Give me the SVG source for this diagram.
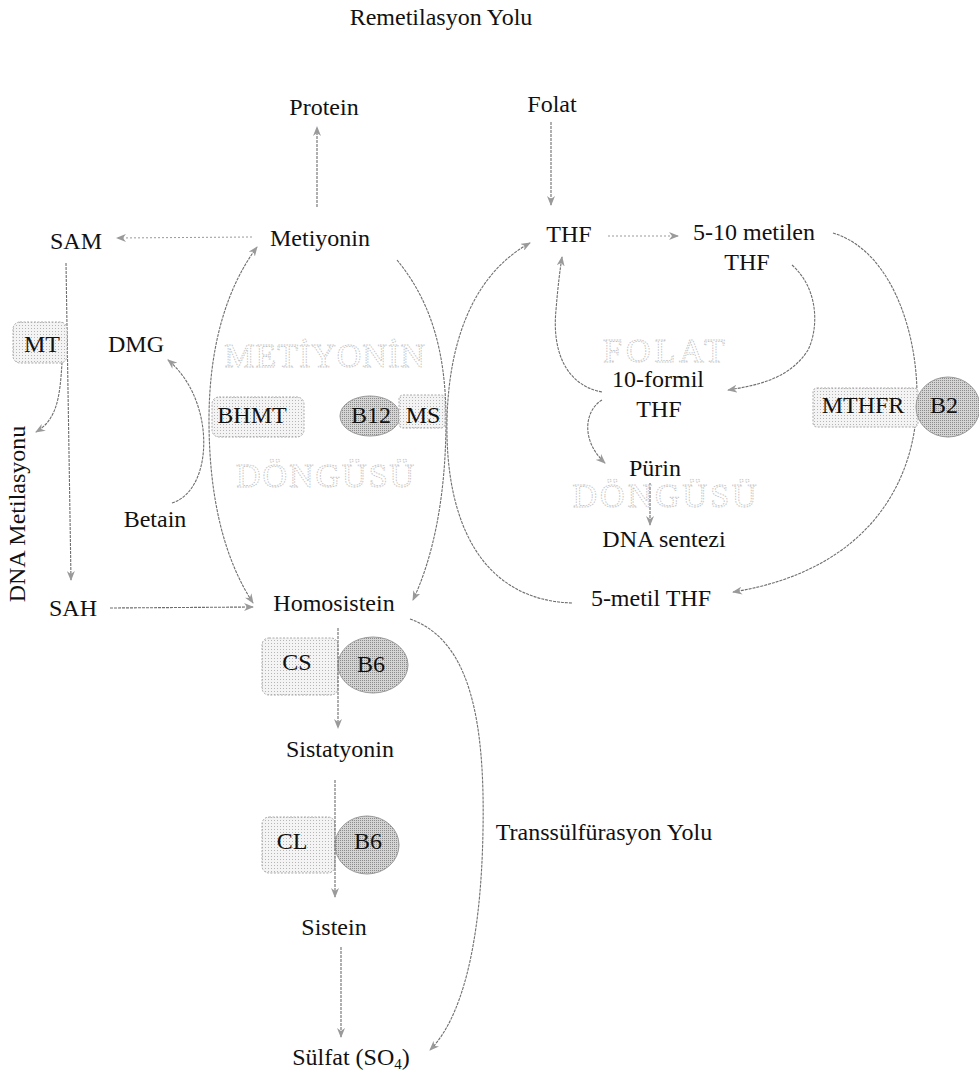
<svg xmlns="http://www.w3.org/2000/svg" width="979" height="1077" viewBox="0 0 979 1077">
<style>
  text { font-family: "Liberation Serif", "Times New Roman", serif; fill: #111; }
  .t { font-size: 24px; text-anchor: middle; }
  .wm { font-size: 34px; text-anchor: middle; fill: #fff; stroke: #c4c4c4; stroke-width: 0.9; stroke-dasharray: 1.5 1.2; }
  .c { fill: none; stroke: #6f6f6f; stroke-width: 1.1; stroke-dasharray: 3 1; }
  .cl { fill: none; stroke: #9a9a9a; stroke-width: 1; stroke-dasharray: 2 2; }
  .enz { fill: url(#dots); stroke: #a8a8a8; stroke-width: 1; stroke-dasharray: 2 1.5; }
  .cof { fill: url(#dense); stroke: #9a9a9a; stroke-width: 1; }
</style>
<defs>
  <pattern id="dots" width="3" height="3" patternUnits="userSpaceOnUse">
    <rect width="3" height="3" fill="#f4f4f4"/>
    <rect x="1" y="1" width="1" height="1" fill="#b5b5b5"/>
  </pattern>
  <pattern id="dense" width="2" height="2" patternUnits="userSpaceOnUse">
    <rect width="2" height="2" fill="#d4d4d4"/>
    <rect width="1" height="1" fill="#8c8c8c"/>
  </pattern>
  <marker id="ah" viewBox="0 0 10 8" refX="9" refY="4" markerWidth="10" markerHeight="8" markerUnits="userSpaceOnUse" orient="auto-start-reverse">
    <path d="M0,0 L10,4 L0,8 L3,4 z" fill="#9a9a9a"/>
  </marker>
</defs>

<text class="t" x="441" y="25">Remetilasyon Yolu</text>

<g id="connectors">
  <path class="c" d="M317,207 L317,127" marker-end="url(#ah)"/>
  <path class="c" d="M551,122 L551,205" marker-end="url(#ah)"/>
  <path class="cl" d="M252,237 L117,238" marker-end="url(#ah)"/>
  <path class="cl" d="M608,236 L678,236" marker-end="url(#ah)"/>
  <path class="c" d="M66,263 L71,580" marker-end="url(#ah)"/>
  <path class="c" d="M62,362 C60,400 56,420 36,432" marker-end="url(#ah)"/>
  <path class="c" d="M172,503 C214,490 216,400 168,360" marker-end="url(#ah)"/>
  <path class="c" d="M257,247 C225,290 209,350 209,420 C209,500 225,560 253,603" marker-start="url(#ah)" marker-end="url(#ah)"/>
  <path class="c" d="M397,260 C430,300 446,350 446,420 C446,500 432,560 413,600" marker-end="url(#ah)"/>
  <path class="c" d="M572,603 C480,600 445,520 447,420 C449,330 480,270 530,243" marker-end="url(#ah)"/>
  <path class="c" d="M602,392 C565,385 552,350 556,310 C558,285 560,270 562,257" marker-end="url(#ah)"/>
  <path class="c" d="M792,265 C820,290 818,330 808,350 C790,378 760,385 728,390" marker-end="url(#ah)"/>
  <path class="c" d="M602,400 C585,410 580,440 605,463" marker-end="url(#ah)"/>
  <path class="c" d="M650,483 L650,525" marker-end="url(#ah)"/>
  <path class="c" d="M833,233 C890,250 918,330 917,400 C916,480 870,570 733,592" marker-end="url(#ah)"/>
  <path class="c" d="M110,608 L253,607" marker-end="url(#ah)"/>
  <path class="c" d="M410,619 C470,640 485,720 483,830 C481,950 460,1020 430,1050" marker-end="url(#ah)"/>
</g>

<g id="watermarks">
  <text class="wm" x="325" y="367" letter-spacing="1">METİYONİN</text>
  <text class="wm" x="326" y="487" font-size="30" letter-spacing="2">DÖNGÜSÜ</text>
  <text class="wm" x="666" y="362" font-size="34" letter-spacing="4">FOLAT</text>
  <text class="wm" x="666" y="507" font-size="34" letter-spacing="3">DÖNGÜSÜ</text>
</g>

<g id="n-protein"><text class="t" x="324" y="115">Protein</text></g>
<g id="n-folat"><text class="t" x="552" y="112">Folat</text></g>
<g id="n-sam"><text class="t" x="76" y="249">SAM</text></g>
<g id="n-metiyonin"><text class="t" x="320" y="246">Metiyonin</text></g>
<g id="n-thf"><text class="t" x="569" y="242">THF</text></g>
<g id="n-metilen"><text class="t" x="754" y="240">5-10 metilen</text><text class="t" x="747" y="270">THF</text></g>
<g id="n-mt"><rect class="enz" x="13" y="322" width="54" height="41" rx="7"/><text class="t" x="42" y="352">MT</text></g>
<g id="n-dmg"><text class="t" x="136" y="352">DMG</text></g>
<g id="n-bhmt"><rect class="enz" x="212" y="397" width="92" height="40" rx="7"/><text class="t" x="252" y="423">BHMT</text></g>
<g id="n-b12"><ellipse class="cof" cx="370" cy="416" rx="30" ry="20"/><text class="t" x="371" y="423">B12</text></g>
<g id="n-ms"><rect class="enz" x="399" y="395" width="46" height="33" rx="4"/><text class="t" x="423" y="423">MS</text></g>
<g id="n-formil"><text class="t" x="658" y="387">10-formil</text><text class="t" x="659" y="417">THF</text></g>
<g id="n-mthfr"><rect class="enz" x="813" y="388" width="105" height="39" rx="4"/><text class="t" x="863" y="413">MTHFR</text></g>
<g id="n-b2"><ellipse class="cof" cx="948" cy="407" rx="32" ry="30"/><text class="t" x="944" y="413">B2</text></g>
<g id="n-purin"><text class="t" x="655" y="476">Pürin</text></g>
<g id="n-dna"><text class="t" x="664" y="547">DNA sentezi</text></g>
<g id="n-metilthf"><text class="t" x="651" y="606">5-metil THF</text></g>
<g id="n-betain"><text class="t" x="155" y="527">Betain</text></g>
<g id="n-dnamet"><text class="t" x="0" y="0" font-size="19" transform="translate(25,514) rotate(-90)">DNA Metilasyonu</text></g>
<g id="n-sah"><text class="t" x="73" y="616">SAH</text></g>
<g id="n-homosistein"><text class="t" x="334" y="611">Homosistein</text></g>
<g id="n-cs"><rect class="enz" x="262" y="638" width="76" height="57" rx="7"/><text class="t" x="297" y="670">CS</text></g>
<g id="n-b6a"><ellipse class="cof" cx="373" cy="665" rx="35" ry="28"/><text class="t" x="371" y="672">B6</text></g>
<g id="n-sistatyonin"><text class="t" x="340" y="757">Sistatyonin</text></g>
<g id="n-cl"><rect class="enz" x="262" y="817" width="73" height="56" rx="7"/><text class="t" x="292" y="849">CL</text></g>
<g id="n-b6b"><ellipse class="cof" cx="367" cy="845" rx="32" ry="29"/><text class="t" x="368" y="849">B6</text></g>
<g id="n-trans"><text class="t" x="604" y="840">Transsülfürasyon Yolu</text></g>
<g id="n-sistein"><text class="t" x="334" y="935">Sistein</text></g>
<g id="n-sulfat"><text class="t" x="351" y="1065">Sülfat (SO<tspan font-size="15" dy="4">4</tspan><tspan dy="-4">)</tspan></text></g>

<g id="connectors-front">
  <path class="c" d="M338,628 L338,728" marker-end="url(#ah)"/>
  <path class="c" d="M335,780 L335,897" marker-end="url(#ah)"/>
  <path class="c" d="M341,947 L341,1037" marker-end="url(#ah)"/>
</g>
</svg>
